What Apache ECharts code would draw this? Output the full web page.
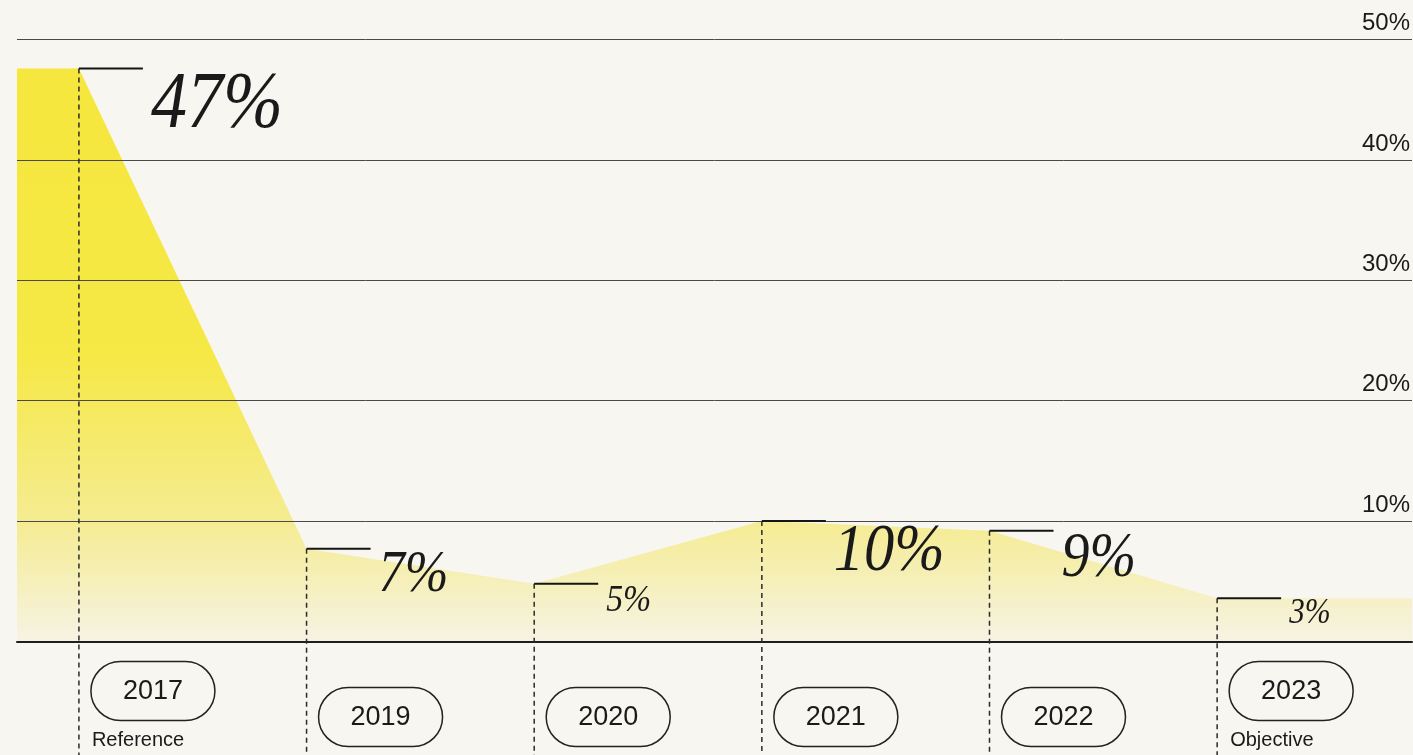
<!DOCTYPE html>
<html>
<head>
<meta charset="utf-8">
<script src="https://cdn.jsdelivr.net/npm/echarts@6/dist/echarts.min.js"></script>
<style>
html,body{margin:0;padding:0;background:#f7f6f1;}
#main{width:1413px;height:755px;}
</style>
</head>
<body>
<div id="main"></div>
<script>
// data
var years = ['2017', '2019', '2020', '2021', '2022', '2023'];
var yearNotes = ['Reference', '', '', '', '', 'Objective'];
var shareValues = [47.6, 7.7, 4.8, 10.0, 9.2, 3.6];
var shareLabels = ['47%', '7%', '5%', '10%', '9%', '3%'];
var yMin = 0, yMax = 50, yStep = 10;

// style only
var labelSizes = [81, 59, 38, 68, 63, 35];
var xMin = -0.272, xMax = 5.856;

share_areaChart = {
	option: null,
	div: null,
	chart: null,
	initData: function (div) {
		this.div = div;
		this.chart = echarts.init(this.div);

		var points = shareValues.map(function (v, i) { return [i, v]; });
		// area runs flat out to both edges of the plot
		var areaData = [[xMin, shareValues[0]]].concat(points).concat([[xMax, shareValues[shareValues.length - 1]]]);

		this.option = {
			backgroundColor: '#f7f6f1',
			animation: false,
			grid: { left: 17, right: 0, top: 39.5, bottom: 113.5 },
			xAxis: {
				type: 'value',
				min: xMin,
				max: xMax,
				axisLine: { show: true, lineStyle: { color: '#1e1e1e', width: 2 } },
				axisTick: { show: false },
				axisLabel: { show: false },
				splitLine: { show: false },
				z: 5
			},
			yAxis: {
				type: 'value',
				position: 'right',
				min: yMin,
				max: yMax,
				interval: yStep,
				axisLine: { show: false },
				axisTick: { show: false },
				axisLabel: {
					inside: true,
					margin: 2,
					showMinLabel: false,
					formatter: '{value}%',
					color: '#1a1a1a',
					fontSize: 24,
					fontFamily: '"Liberation Sans", Arial, sans-serif',
					verticalAlign: 'bottom',
					padding: [0, 0, 4, 0]
				},
				splitLine: { show: true, lineStyle: { color: '#4a4a4a', width: 1 } },
				z: 5
			},
			series: [
				{
					type: 'line',
					data: areaData,
					symbol: 'none',
					lineStyle: { width: 0 },
					areaStyle: {
						opacity: 1,
						color: {
							type: 'linear', x: 0, y: 0, x2: 0, y2: 1,
							colorStops: [
								{ offset: 0, color: '#f6e73e' },
								{ offset: 0.5, color: '#f6e845' },
								{ offset: 0.8, color: '#f5ec95' },
								{ offset: 1, color: '#f6f3e4' }
							]
						}
					},
					z: 1
				},
				{
					type: 'custom',
					data: points,
					clip: false,
					z: 10,
					renderItem: function (params, api) {
						var i = params.dataIndex;
						var p = api.coord([api.value(0), api.value(1)]);
						var base = api.coord([api.value(0), 0])[1];
						var fs = labelSizes[i];
						var hasNote = yearNotes[i] !== '';
						var pillTop = base + (hasNote ? 20 : 46);
						var children = [
							{
								type: 'line',
								shape: { x1: p[0], y1: p[1], x2: p[0], y2: api.getHeight() },
								style: { stroke: '#2a2a2a', lineWidth: 1.5, lineDash: [5, 4] }
							},
							{
								type: 'line',
								shape: { x1: p[0], y1: p[1], x2: p[0] + 64, y2: p[1] },
								style: { stroke: '#151515', lineWidth: 2 }
							},
							{
								type: 'text',
								x: p[0] + 72,
								y: p[1] - 0.04 * fs,
								scaleX: 0.89,
								style: {
									text: shareLabels[i],
									x: 0, y: 0,
									fill: '#1a1a1a',
									fontStyle: 'italic',
									fontSize: fs,
									fontFamily: '"Liberation Serif", "DejaVu Serif", serif',
									align: 'left',
									verticalAlign: 'top'
								}
							},
							{
								type: 'rect',
								shape: { x: p[0] + 12, y: pillTop, width: 124, height: 59, r: 29.5 },
								style: { fill: 'none', stroke: '#222', lineWidth: 1.5 }
							},
							{
								type: 'text',
								style: {
									text: years[i],
									x: p[0] + 74, y: pillTop + 30,
									fill: '#1a1a1a',
									fontSize: 27,
									fontFamily: '"Liberation Sans", Arial, sans-serif',
									align: 'center',
									verticalAlign: 'middle'
								}
							}
						];
						if (hasNote) {
							children.push({
								type: 'text',
								style: {
									text: yearNotes[i],
									x: p[0] + 13, y: base + 99,
									fill: '#1a1a1a',
									fontSize: 20,
									fontFamily: '"Liberation Sans", Arial, sans-serif',
									align: 'left',
									verticalAlign: 'middle'
								}
							});
						}
						return { type: 'group', children: children };
					}
				}
			]
		};
		this.view();
	},
	view: function () {
		this.chart.setOption(this.option, true);
	}
};

share_areaChart.initData(document.getElementById('main'));
</script>
</body>
</html>
